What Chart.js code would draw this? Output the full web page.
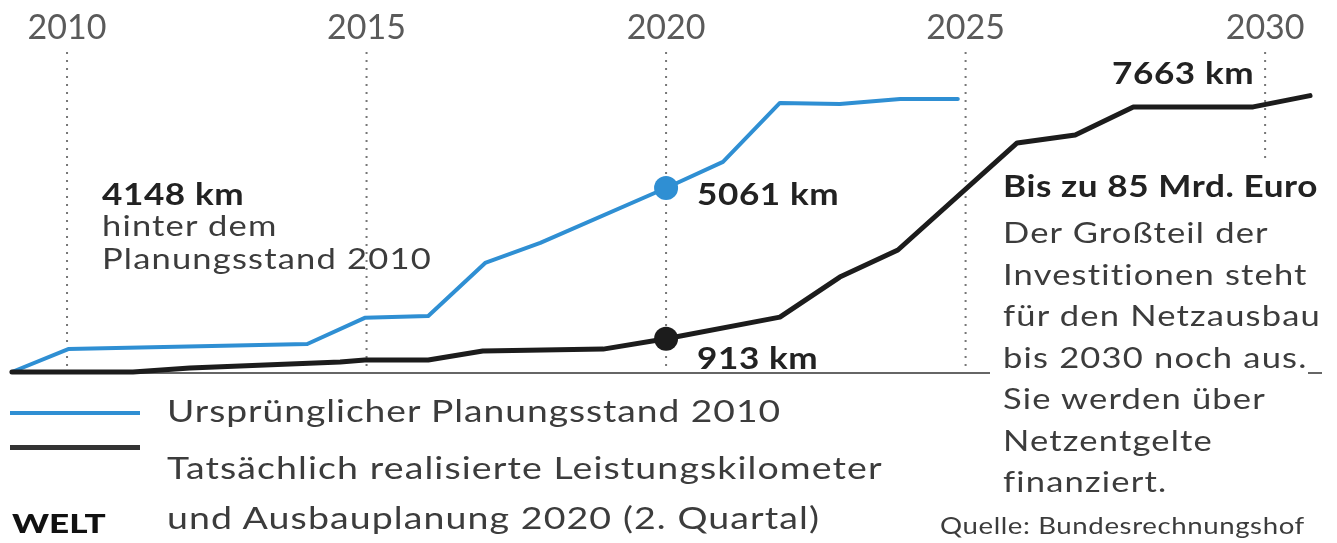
<!DOCTYPE html>
<html>
<head>
<meta charset="utf-8">
<script src="https://cdn.jsdelivr.net/npm/chart.js@4.4.0/dist/chart.umd.min.js"></script>
<style>
  body { margin: 0; background: #fff; }
  #wrap { position: relative; width: 1337px; height: 543px; overflow: hidden; font-family: Lato, sans-serif; }
  #chart { position: absolute; left: 0; top: 0; }
  .lbl { position: absolute; white-space: nowrap; color: #3c3c3c; font-size: 29px; line-height: 41px;
         letter-spacing: 1px; transform: scaleX(1.19); transform-origin: 0 0; }
  .b { font-weight: 700; color: #222; font-size: 30px; letter-spacing: 0.5px; transform: scaleX(1.17); }
  .sw { position: absolute; left: 10px; width: 130px; }
</style>
</head>
<body>
<div id="wrap">
  <canvas id="chart" width="1337" height="543"></canvas>

  <div class="lbl b" style="left:102px; top:173px;">4148 km</div>
  <div class="lbl" style="left:102px; top:208px; line-height:33px;">hinter dem<br>Planungsstand 2010</div>

  <div class="lbl b" style="left:697px; top:173px;">5061 km</div>
  <div class="lbl b" style="left:697px; top:337px;">913 km</div>
  <div class="lbl b" style="left:1112px; top:52px;">7663 km</div>

  <div class="lbl b" style="left:1003px; top:165px;">Bis zu 85 Mrd. Euro</div>
  <div class="lbl" style="left:1003px; top:211px; line-height:41.5px;">Der Großteil der<br>Investitionen steht<br>für den Netzausbau<br>bis 2030 noch aus.<br>Sie werden über<br>Netzentgelte<br>finanziert.</div>
  <div class="lbl" style="left:940px; top:510px; font-size:23px; line-height:30px; letter-spacing:0.5px; transform:scaleX(1.2);">Quelle: Bundesrechnungshof</div>

  <div class="sw" style="top:411px; height:4px; background:#2f8fd3;"></div>
  <div class="sw" style="top:445px; height:5px; background:#333;"></div>
  <div class="lbl" style="left:167px; top:390px; font-size:31px; letter-spacing:0.8px; transform:scaleX(1.2);">Ursprünglicher Planungsstand 2010</div>
  <div class="lbl" style="left:167px; top:442px; font-size:31px; line-height:50px; letter-spacing:0.9px; transform:scaleX(1.21);">Tatsächlich realisierte Leistungskilometer<br>und Ausbauplanung 2020 (2. Quartal)</div>
  <div class="lbl" style="left:12px; top:502px; font-size:27px; color:#111; font-weight:900; letter-spacing:0; transform:scaleX(1.3);">WELT</div>
</div>

<script>
// Netzausbau in km, Jahreswerte
const planYears = [2009.08, 2010.02, 2014.01, 2014.97, 2016.03, 2016.98, 2017.90, 2020, 2020.95, 2021.90, 2022.90, 2023.91, 2024.87];
const planKm = [0, 630, 770, 1490, 1540, 3000, 3550, 5061, 5780, 7400, 7370, 7510, 7510];

const actualYears = [2009.08, 2011.1, 2012.05, 2014.56, 2014.97, 2016.03, 2016.94, 2018.95, 2020, 2021.9, 2022.9, 2023.87, 2025.86, 2026.83, 2027.8, 2029.8, 2030.75];
const actualKm = [0, 0, 110, 275, 330, 330, 580, 630, 913, 1510, 2610, 3355, 6300, 6520, 7290, 7290, 7600];

const tickYears = [2010, 2015, 2020, 2025, 2030];
const markYear = 2020;

function toPoints(xs, ys) {
    return xs.map((x, i) => ({ x: x, y: ys[i] }));
}

// Jahreslinien oben, gepunktete Hilfslinien und Nulllinie
const yearGrid = {
    id: 'yearGrid',
    beforeDatasetsDraw(chart) {
        const ctx = chart.ctx;
        const xs = chart.scales.x;
        const zero = chart.scales.y.getPixelForValue(0);
        ctx.save();

        ctx.fillStyle = '#5a5a5a';
        ctx.font = '34px Lato';
        ctx.textAlign = 'center';
        ctx.textBaseline = 'middle';
        tickYears.forEach(yr => {
            const px = xs.getPixelForValue(yr);
            ctx.fillText(String(yr), px, 28);

            ctx.strokeStyle = '#777';
            ctx.lineWidth = 2;
            ctx.setLineDash([2, 6]);
            ctx.beginPath();
            ctx.moveTo(px, 52);
            ctx.lineTo(px, yr === 2030 ? 160 : zero);
            ctx.stroke();
        });

        ctx.setLineDash([]);
        ctx.strokeStyle = '#666';
        ctx.lineWidth = 2;
        ctx.beginPath();
        ctx.moveTo(10, zero + 1);
        ctx.lineTo(990, zero + 1);
        ctx.moveTo(1308, zero + 1);
        ctx.lineTo(1322, zero + 1);
        ctx.stroke();
        ctx.restore();
    }
};

const ctx = document.getElementById('chart').getContext('2d');
new Chart(ctx, {
    type: 'line',
    data: {
        datasets: [{
            label: 'Ursprünglicher Planungsstand 2010',
            data: toPoints(planYears, planKm),
            borderColor: '#2f8fd3',
            backgroundColor: '#2f8fd3',
            borderWidth: 4,
            pointRadius: c => (c.raw && c.raw.x === markYear ? 12 : 0),
            pointBorderWidth: 0,
            order: 2
        }, {
            label: 'Tatsächlich realisierte Leistungskilometer',
            data: toPoints(actualYears, actualKm),
            borderColor: '#1c1c1c',
            backgroundColor: '#1c1c1c',
            borderWidth: 5,
            pointRadius: c => (c.raw && c.raw.x === markYear ? 12 : 0),
            pointBorderWidth: 0,
            order: 1
        }]
    },
    options: {
        responsive: false,
        animation: false,
        clip: false,
        layout: { padding: 0 },
        plugins: { legend: { display: false }, tooltip: { enabled: false } },
        elements: { line: { tension: 0, borderJoinStyle: 'round', borderCapStyle: 'round' } },
        scales: {
            x: { type: 'linear', display: false, min: 2008.881, max: 2031.2 },
            y: { display: false, min: -4702, max: 10230 }
        }
    },
    plugins: [yearGrid]
});
</script>
</body>
</html>
